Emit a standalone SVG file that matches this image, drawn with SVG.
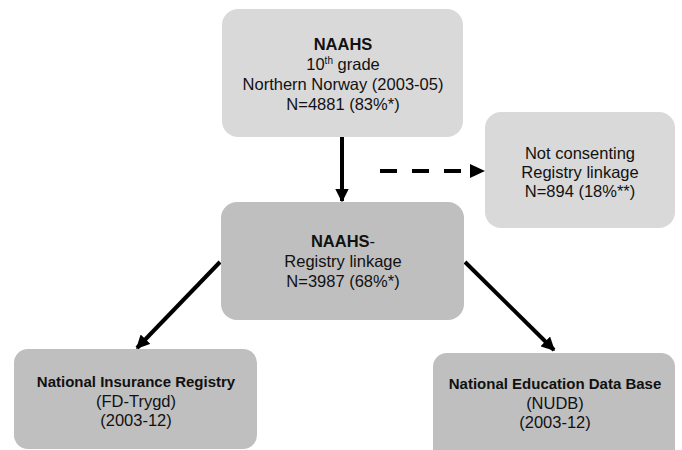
<svg xmlns="http://www.w3.org/2000/svg" width="682" height="450" viewBox="0 0 682 450">
<style>
.t{font-family:"Liberation Sans",Arial,sans-serif;font-size:16.5px;fill:#111;text-anchor:middle}
.b{font-weight:bold}
.s{font-size:15px}
.light{fill:#d9d9d9}
.dark{fill:#bfbfbf}
.c{stroke:#000;stroke-width:4;fill:none}
</style>
<defs>
<marker id="ah" viewBox="0 0 10 10" refX="9" refY="5" markerWidth="3.4" markerHeight="3.4" orient="auto" markerUnits="strokeWidth">
<path d="M0,0 L10,5 L0,10 z" fill="#000"/>
</marker>
</defs>
<rect width="682" height="450" fill="#fff"/>
<g id="connectors">
<line class="c" x1="342" y1="137" x2="342" y2="201" marker-end="url(#ah)"/>
<line class="c" x1="380" y1="171" x2="472" y2="171" stroke-dasharray="17 15" stroke-width="5"/>
<path d="M470,164 L485,171 L470,178 z" fill="#000"/>
<line class="c" x1="220" y1="262" x2="137" y2="348" marker-end="url(#ah)"/>
<line class="c" x1="465" y1="262" x2="554" y2="350" marker-end="url(#ah)"/>
</g>
<g id="naahs">
<rect class="light" x="222" y="9" width="241" height="128" rx="16"/>
<text class="t b" x="343" y="50">NAAHS</text>
<text class="t" x="343" y="70">10<tspan font-size="10" dy="-6">th</tspan><tspan dy="6"> grade</tspan></text>
<text class="t" x="343" y="90">Northern Norway (2003-05)</text>
<text class="t" x="343" y="110">N=4881 (83%*)</text>
</g>
<g id="notconsenting">
<rect class="light" x="485" y="112" width="190" height="116" rx="16"/>
<text class="t" x="580" y="159">Not consenting</text>
<text class="t" x="580" y="178">Registry linkage</text>
<text class="t" x="580" y="197">N=894 (18%**)</text>
</g>
<g id="linkage">
<rect class="dark" x="221" y="202" width="243" height="118" rx="16"/>
<text class="t" x="343" y="247"><tspan class="b">NAAHS</tspan>-</text>
<text class="t" x="343" y="267">Registry linkage</text>
<text class="t" x="343" y="287">N=3987 (68%*)</text>
</g>
<g id="insurance">
<rect class="dark" x="14" y="349" width="243" height="100" rx="14"/>
<text class="t s b" x="136" y="387">National Insurance Registry</text>
<text class="t" x="136" y="407">(FD-Trygd)</text>
<text class="t" x="136" y="426">(2003-12)</text>
</g>
<g id="education">
<rect class="dark" x="433" y="353" width="242" height="110" rx="14"/>
<text class="t s b" x="555" y="389">National Education Data Base</text>
<text class="t" x="555" y="409">(NUDB)</text>
<text class="t" x="555" y="428">(2003-12)</text>
</g>
</svg>
